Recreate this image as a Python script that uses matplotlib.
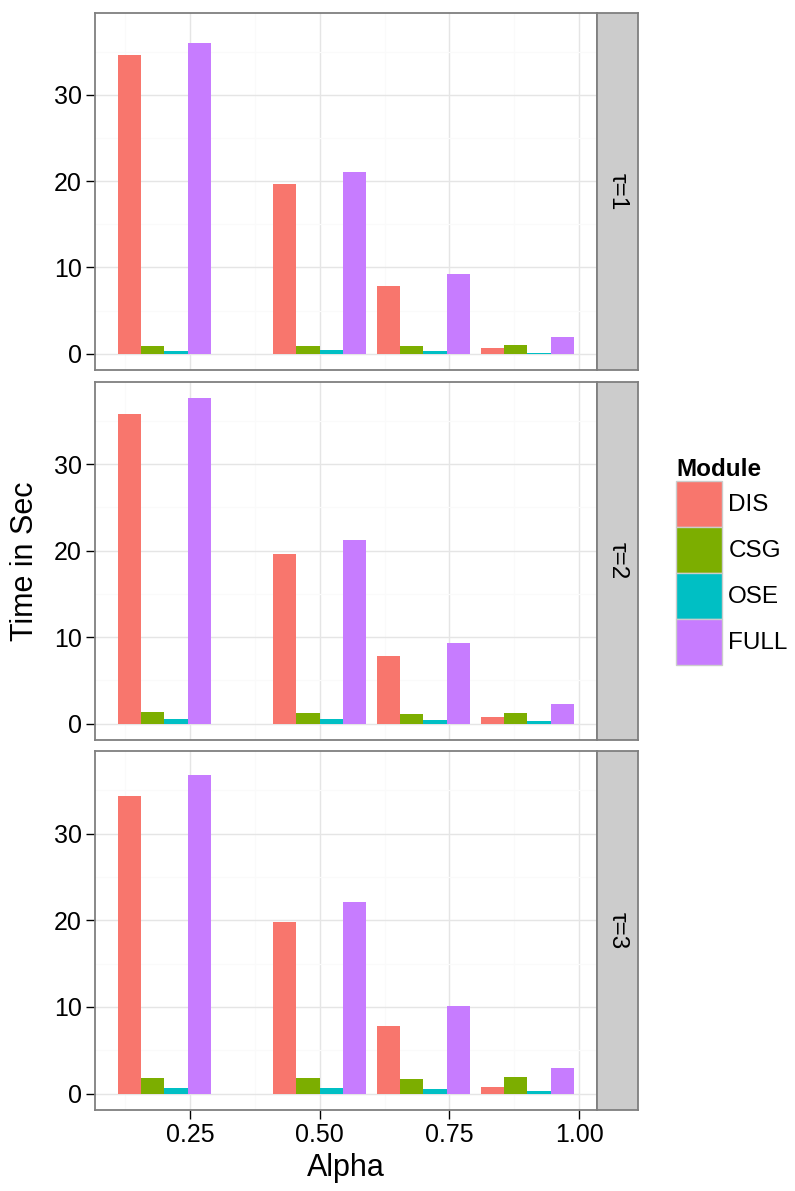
import matplotlib

matplotlib.use("Agg")
import matplotlib.pyplot as plt
from matplotlib.patches import Patch
import numpy as np

plt.rcParams["font.family"] = ["Liberation Sans", "DejaVu Sans"]

# Datos: tiempo (s) por módulo, valor de alpha y tau.
alphas = [0.2, 0.5, 0.7, 0.9]
modules = ["DIS", "CSG", "OSE", "FULL"]
colors = ["#F8766D", "#7CAE00", "#00BFC4", "#C77CFF"]
tau_labels = ["τ=1", "τ=2", "τ=3"]

tau1_dis = [34.6, 19.7, 7.85, 0.69]
tau1_csg = [0.92, 0.92, 0.92, 1.04]
tau1_ose = [0.35, 0.46, 0.35, 0.12]
tau1_full = [36.0, 21.1, 9.23, 1.96]

tau2_dis = [35.8, 19.65, 7.77, 0.73]
tau2_csg = [1.31, 1.19, 1.08, 1.19]
tau2_ose = [0.5, 0.5, 0.38, 0.27]
tau2_full = [37.65, 21.27, 9.38, 2.23]

tau3_dis = [34.35, 19.8, 7.8, 0.77]
tau3_csg = [1.81, 1.81, 1.69, 1.92]
tau3_ose = [0.65, 0.65, 0.54, 0.31]
tau3_full = [36.77, 22.1, 10.1, 2.96]

panels = [
    [tau1_dis, tau1_csg, tau1_ose, tau1_full],
    [tau2_dis, tau2_csg, tau2_ose, tau2_full],
    [tau3_dis, tau3_csg, tau3_ose, tau3_full],
]

W, H = 795, 1191
fig = plt.figure(figsize=(W / 100, H / 100), dpi=100)

GRAY50 = "#7F7F7F"
AXIS_FS = 18
TITLE_FS = 22

# dodge estilo ggplot: ancho total 0.9 * resolución (0.2)
total_w = 0.18
bar_w = total_w / len(modules)
x = np.array(alphas)
ymax = max(max(v) for p in panels for v in p)
ypad = ymax * 0.05
xpad = (x.max() + total_w / 2 - (x.min() - total_w / 2)) * 0.05
xlim = (x.min() - total_w / 2 - xpad, x.max() + total_w / 2 + xpad)

left_px, right_px = 94.7, 596.7
strip_w_px = 41
rows_px = [(12.7, 370.0), (381.7, 740.0), (751.0, 1110.0)]

for k, (values, label) in enumerate(zip(panels, tau_labels)):
    top, bot = rows_px[k]
    ax = fig.add_axes([left_px / W, 1 - bot / H, (right_px - left_px) / W, (bot - top) / H])
    ax.set_facecolor("white")
    for i, (vals, col) in enumerate(zip(values, colors)):
        ax.bar(x + (i - 1.5) * bar_w, vals, width=bar_w, color=col, linewidth=0, zorder=3)
    ax.set_xlim(*xlim)
    ax.set_ylim(-ypad, ymax + ypad)
    ax.set_xticks([0.25, 0.5, 0.75, 1.0])
    ax.set_xticks([0.125, 0.375, 0.625, 0.875], minor=True)
    ax.set_yticks([0, 10, 20, 30])
    ax.set_yticks([5, 15, 25, 35], minor=True)
    ax.grid(which="major", color="#E5E5E5", linewidth=1.0, zorder=0)
    ax.grid(which="minor", color="#FAFAFA", linewidth=0.8, zorder=0)
    ax.set_axisbelow(True)
    for s in ax.spines.values():
        s.set_color(GRAY50)
        s.set_linewidth(1.3)
    ax.tick_params(which="minor", length=0)
    ax.tick_params(which="major", length=6.5, width=1.0, color="black",
                   labelsize=AXIS_FS, pad=3, labelcolor="black")
    ax.set_yticklabels(["0", "10", "20", "30"])
    if k < 2:
        ax.tick_params(axis="x", which="major", length=0, labelbottom=False)
    else:
        ax.set_xticklabels(["0.25", "0.50", "0.75", "1.00"])

    sax = fig.add_axes([right_px / W, 1 - bot / H, strip_w_px / W, (bot - top) / H])
    sax.set_facecolor("#CCCCCC")
    sax.set_xticks([])
    sax.set_yticks([])
    for s in sax.spines.values():
        s.set_color(GRAY50)
        s.set_linewidth(1.3)
    sax.text(0.5, 0.5, label, rotation=-90, ha="center", va="center",
             fontsize=17.5, transform=sax.transAxes)

fig.text((left_px + right_px) / 2 / W, 1 - 1168 / H, "Alpha",
         ha="center", va="center", fontsize=TITLE_FS)
fig.text(25 / W, 1 - 561 / H, "Time in Sec", rotation=90,
         ha="center", va="center", fontsize=TITLE_FS)

# handleheight ajustado para que cada llave mida ~46 px (el descent de matplotlib resta altura)
handles = [Patch(facecolor=c, edgecolor="#CCCCCC", linewidth=1.0) for c in colors]
leg = fig.legend(handles, modules, title="Module", loc="upper left",
                 bbox_to_anchor=(676 / W, 1 - 458 / H), frameon=False,
                 fontsize=17.5, title_fontproperties={"weight": "bold", "size": 17.5},
                 handlelength=1.9, handleheight=2.535, labelspacing=0.0,
                 handletextpad=0.25, borderpad=0, borderaxespad=0,
                 alignment="left")

fig.savefig("out.png", dpi=100)
